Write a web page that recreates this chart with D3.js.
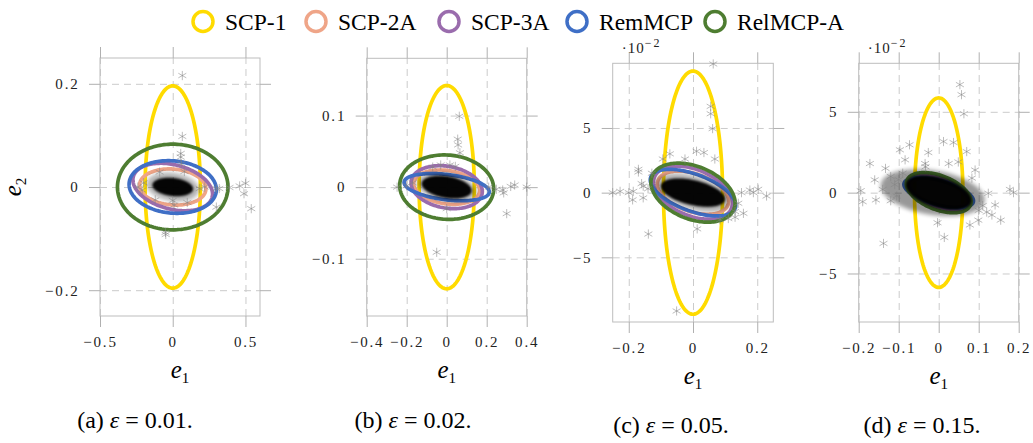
<!DOCTYPE html>
<html>
<head>
<meta charset="utf-8">
<script src="https://cdn.jsdelivr.net/npm/d3@7"></script>
<style>
  body { margin: 0; background: #fff; }
  svg { display: block; }
</style>
</head>
<body>
<svg id="chart" width="1033" height="443"></svg>
<script>
var serif = "'Liberation Serif', 'Times New Roman', 'DejaVu Serif', serif";

// methods shown in the legend (drawn in this order)
var methods = ["SCP-1", "SCP-2A", "SCP-3A", "RemMCP", "RelMCP-A"];
var methodColors = ["#ffdb00", "#efa588", "#9a6cad", "#3f6fc6", "#4e7d31"];

// one panel per epsilon
var epsilons = ["0.01", "0.02", "0.05", "0.15"];
var panelLetters = ["a", "b", "c", "d"];

var xDomains = [[-0.5, 0.6], [-0.4, 0.4], [-0.25, 0.25], [-0.2, 0.2]];
var yDomains = [[-0.25, 0.25], [-0.18, 0.18], [-0.1, 0.1], [-0.08, 0.08]];
var xTicks = [[-0.5, 0, 0.5], [-0.4, -0.2, 0, 0.2, 0.4], [-0.2, 0, 0.2], [-0.2, -0.1, 0, 0.1, 0.2]];
var yTicks = [[-0.2, 0, 0.2], [-0.1, 0, 0.1], [-0.05, 0, 0.05], [-0.05, 0, 0.05]];
var yTimes100 = [false, false, true, true];   // axis printed in units of 10^-2

// region ellipses, one per method: [sigma e1, sigma e2, correlation]
var ellipsesA = [[0.19, 0.196, 0], [0.228, 0.035, -0.1], [0.274, 0.046, -0.3], [0.30, 0.051, -0.1], [0.38, 0.083, 0]];
var ellipsesB = [[0.138, 0.142, 0], [0.165, 0.024, -0.2], [0.178, 0.030, -0.2], [0.213, 0.019, -0.35], [0.235, 0.045, -0.05]];
var ellipsesC = [[0.092, 0.094, 0], [0.111, 0.0167, -0.4], [0.123, 0.0205, -0.4], [0.133, 0.018, -0.55], [0.131, 0.0228, -0.35]];
var ellipsesD = [[0.0605, 0.0586, 0], [0.07, 0.009, -0.5], [0.075, 0.0105, -0.5], [0.087, 0.0093, -0.55], [0.081, 0.0124, -0.45]];
var ellipses = [ellipsesA, ellipsesB, ellipsesC, ellipsesD];

// dense error cloud: [center e1, center e2, sigma e1, sigma e2, correlation]
var cloudCore = [[0, 0, 0.14, 0.018, -0.2], [0, 0, 0.125, 0.016, -0.3], [0, 0, 0.1, 0.011, -0.45], [0, 0, 0.082, 0.0108, -0.45]];
var cloudHalo = [[0, 0, 0.18, 0.028, -0.2], [0, 0, 0.15, 0.021, -0.3], [0, 0, 0.118, 0.015, -0.45], [-0.015, 0, 0.13, 0.0145, -0.3]];

// visible outlier samples (e1, e2)
var starsA = [[0.066, 0.216], [0.066, 0.098], [0.055, 0.065], [0.055, 0.058], [0.06, 0.045], [-0.048, -0.092], [-0.05, -0.088],
  [0.30, -0.003], [0.32, -0.003], [0.39, -0.001], [0.46, 0.002], [0.50, 0.007], [0.49, -0.013], [0.54, -0.042], [0.30, -0.039],
  [0.185, -0.003], [0.22, 0.0], [-0.24, 0.0], [-0.21, -0.006], [-0.2, 0.008], [0.0, -0.026], [0.01, -0.035], [-0.09, 0.029],
  [0.08, 0.03], [0.1, -0.03], [-0.12, -0.025]];
var starsB = [[0.063, 0.099], [0.055, 0.067], [0.057, 0.059], [0.066, 0.048], [-0.05, -0.091], [0.30, -0.037], [0.248, -0.003],
  [0.28, -0.004], [0.285, -0.008], [0.32, 0.001], [0.34, 0.003], [0.40, 0], [-0.248, 0], [-0.2, 0.002], [-0.17, 0.006],
  [0.016, 0.031], [-0.03, 0.031], [0.043, 0.029], [0.0, -0.03], [0.21, 0.0], [-0.07, 0.028]];
var starsC = [[0.063, 0.0995], [0.055, 0.0667], [0.055, 0.061], [0.061, 0.0495], [0.011, 0.032], [0.034, 0.031], [-0.025, 0.026],
  [-0.072, 0.030], [-0.094, 0.026], [0.068, 0.026], [-0.17, 0.018], [-0.17, 0.016], [-0.128, 0.015], [-0.16, 0.007],
  [-0.155, 0.005], [-0.186, 0.001], [-0.2, 0], [-0.227, 0.001], [-0.25, 0], [-0.188, -0.0056], [-0.155, -0.004], [-0.14, 0.003],
  [-0.139, -0.032], [0.013, -0.028], [-0.051, -0.0915], [0.084, -0.021], [0.131, -0.0146], [0.141, -0.0082], [0.157, -0.016],
  [0.131, -0.019], [0.151, 0], [0.177, 0.002], [0.188, 0], [0.203, 0.0026], [0.229, -0.0026], [0.11, -0.02]];
var starsD = [[0.053, 0.0668], [0.057, 0.0606], [0.063, 0.0488], [0.012, 0.0316], [0.037, 0.031], [0.07, 0.0254], [-0.026, 0.0248],
  [-0.073, 0.0296], [-0.097, 0.0265], [-0.084, 0.0203], [-0.034, 0.018], [-0.033, 0.016], [-0.172, 0.018], [-0.133, 0.015],
  [-0.16, 0.0079], [-0.195, 0.0012], [-0.19, -0.0056], [-0.157, -0.0045], [-0.138, -0.0314], [-0.003, -0.0186], [0.014, -0.0277],
  [0.078, -0.02], [0.099, -0.017], [0.1, -0.011], [0.124, -0.0004], [0.133, -0.0138], [0.141, -0.0076], [0.155, -0.017],
  [0.178, 0.002], [0.187, 0], [0.091, 0.014], [0.083, 0.009], [0.049, 0.019], [0.025, 0.018], [-0.12, 0.01], [-0.11, 0.005],
  [-0.1, 0.008], [-0.14, 0.002], [-0.12, -0.005], [0.11, -0.008], [0.12, -0.012], [-0.09, 0.012], [-0.105, -0.002]];
var stars = [starsA, starsB, starsC, starsD];

// panel frames on the page
var panels = [
  { left: 100, top: 58, width: 160, height: 258, caption: 135, capY: 428 },
  { left: 366.7, top: 58.3, width: 160, height: 257.7, caption: 413, capY: 428 },
  { left: 612.7, top: 63.3, width: 160.6, height: 258.7, caption: 671, capY: 433 },
  { left: 858.7, top: 63.3, width: 160, height: 258.7, caption: 922, capY: 433 }
];

var svg = d3.select("#chart").attr("font-family", serif);
var defs = svg.append("defs");
defs.append("filter").attr("id", "blurCore")
  .attr("x", "-50%").attr("y", "-50%").attr("width", "200%").attr("height", "200%")
  .append("feGaussianBlur").attr("stdDeviation", 0.9);
defs.append("filter").attr("id", "blurHalo")
  .attr("x", "-50%").attr("y", "-50%").attr("width", "200%").attr("height", "200%")
  .append("feGaussianBlur").attr("stdDeviation", 2.2);

// points of an ellipse given by sigmas and correlation
function ellipsePoints(cx, cy, sx, sy, rho) {
  var pts = [];
  for (var k = 0; k < 160; k++) {
    var t = 2 * Math.PI * k / 160;
    pts.push([cx + sx * Math.cos(t), cy + sy * (rho * Math.cos(t) + Math.sqrt(1 - rho * rho) * Math.sin(t))]);
  }
  return pts;
}

// pgf style asterisk
function starPath(r) {
  var s = "";
  [90, 30, 150].forEach(function(a) {
    var dx = r * Math.cos(a * Math.PI / 180), dy = r * Math.sin(a * Math.PI / 180);
    s += "M" + (-dx) + "," + (-dy) + "L" + dx + "," + dy;
  });
  return s;
}

var fmt = d3.format("");

panels.forEach(function(p, i) {
  var x = d3.scaleLinear().domain(xDomains[i]).range([p.left, p.left + p.width]);
  var y = d3.scaleLinear().domain(yDomains[i]).range([p.top + p.height, p.top]);
  var bottom = p.top + p.height, right = p.left + p.width;
  var g = svg.append("g");

  var yFmt = function(d) { return yTimes100[i] ? fmt(Math.round(d * 100)) : fmt(d); };

  // grid
  var grid = g.append("g");
  grid.append("g").attr("transform", `translate(0, ${bottom})`)
    .call(d3.axisBottom(x).tickValues(xTicks[i]).tickSize(-p.height).tickFormat(""));
  grid.append("g").attr("transform", `translate(${p.left}, 0)`)
    .call(d3.axisLeft(y).tickValues(yTicks[i]).tickSize(-p.width).tickFormat(""));
  grid.selectAll(".domain").remove();
  grid.selectAll("line").attr("stroke", "#cbcbcb").attr("stroke-dasharray", "7,5");

  // frame
  g.append("rect")
    .attr("x", p.left).attr("y", p.top).attr("width", p.width).attr("height", p.height)
    .attr("fill", "none").attr("stroke", "#bdbdbd");

  // outside ticks on all four sides
  var axes = g.append("g");
  axes.append("g").attr("transform", `translate(0, ${bottom})`)
    .call(d3.axisBottom(x).tickValues(xTicks[i]).tickSize(11).tickPadding(9.5).tickFormat(fmt));
  axes.append("g").attr("transform", `translate(0, ${p.top})`)
    .call(d3.axisTop(x).tickValues(xTicks[i]).tickSize(11).tickFormat(""));
  axes.append("g").attr("transform", `translate(${p.left}, 0)`)
    .call(d3.axisLeft(y).tickValues(yTicks[i]).tickSize(11).tickPadding(9.5).tickFormat(yFmt));
  axes.append("g").attr("transform", `translate(${right}, 0)`)
    .call(d3.axisRight(y).tickValues(yTicks[i]).tickSize(11).tickFormat(""));
  axes.selectAll(".domain").remove();
  axes.selectAll("g").attr("font-family", serif).attr("font-size", 15);
  axes.selectAll("line").attr("stroke", "#b0b0b0");
  axes.selectAll("text").attr("fill", "#222").attr("letter-spacing", "1.8px");

  // method regions
  var line = d3.line().x(d => x(d[0])).y(d => y(d[1])).curve(d3.curveLinearClosed);
  ellipses[i].forEach(function(e, j) {
    g.append("path")
      .datum(ellipsePoints(0, 0, e[0], e[1], e[2]))
      .attr("d", line)
      .attr("fill", "none")
      .attr("stroke", methodColors[j])
      .attr("stroke-width", 3.7);
  });

  // error cloud
  var h = cloudHalo[i], c = cloudCore[i];
  g.append("path").datum(ellipsePoints(h[0], h[1], h[2], h[3], h[4]))
    .attr("d", line).attr("fill", "#000").attr("opacity", i == 3 ? 0.4 : 0.3)
    .attr("filter", "url(#blurHalo)");
  g.append("path").datum(ellipsePoints(c[0], c[1], c[2], c[3], c[4]))
    .attr("d", line).attr("fill", "#000").attr("opacity", 0.97)
    .attr("filter", "url(#blurCore)");

  // outliers
  g.selectAll(".star")
    .data(stars[i])
    .enter()
    .append("path")
    .attr("class", "star")
    .attr("transform", d => `translate(${x(d[0])}, ${y(d[1])})`)
    .attr("d", starPath(4.6))
    .attr("fill", "none")
    .attr("stroke", "#858585")
    .attr("stroke-width", 0.9)
    .attr("opacity", 0.6);

  // x label
  var xl = g.append("text")
    .attr("x", p.left + p.width / 2).attr("y", bottom + 62)
    .attr("text-anchor", "middle");
  xl.append("tspan").attr("font-style", "italic").attr("font-size", 25).text("e");
  xl.append("tspan").attr("font-size", 15).attr("dy", 5).text("1");

  // y label only on first panel
  if (i == 0) {
    var yl = g.append("text")
      .attr("transform", `translate(21, ${p.top + p.height / 2}) rotate(-90)`)
      .attr("text-anchor", "middle");
    yl.append("tspan").attr("font-style", "italic").attr("font-size", 25).text("e");
    yl.append("tspan").attr("font-size", 15).attr("dy", 5).text("2");
  }

  // exponent note
  if (yTimes100[i]) {
    var ex = g.append("text")
      .attr("x", p.left + 9).attr("y", p.top - 10)
      .attr("font-size", 15).attr("letter-spacing", "1px").attr("fill", "#222");
    ex.append("tspan").text("\u00b710");
    ex.append("tspan").attr("font-size", 12).attr("dy", -6).attr("letter-spacing", "2px").text("\u22122");
  }

  // caption
  var cap = svg.append("text")
    .attr("x", p.caption).attr("y", p.capY)
    .attr("text-anchor", "middle").attr("font-size", 24);
  cap.append("tspan").text("(" + panelLetters[i] + ") ");
  cap.append("tspan").attr("font-style", "italic").text("\u03b5");
  cap.append("tspan").text(" = " + epsilons[i] + ".");
});

// legend
var legendX = [203, 316, 449, 577, 715];
var legend = svg.append("g");
methods.forEach(function(m, j) {
  legend.append("circle")
    .attr("cx", legendX[j]).attr("cy", 21.5).attr("r", 10)
    .attr("fill", "none").attr("stroke", methodColors[j]).attr("stroke-width", 3.5);
  legend.append("text")
    .attr("x", legendX[j] + 22).attr("y", 30)
    .attr("font-size", 23.5)
    .text(m);
});
</script>
</body>
</html>
